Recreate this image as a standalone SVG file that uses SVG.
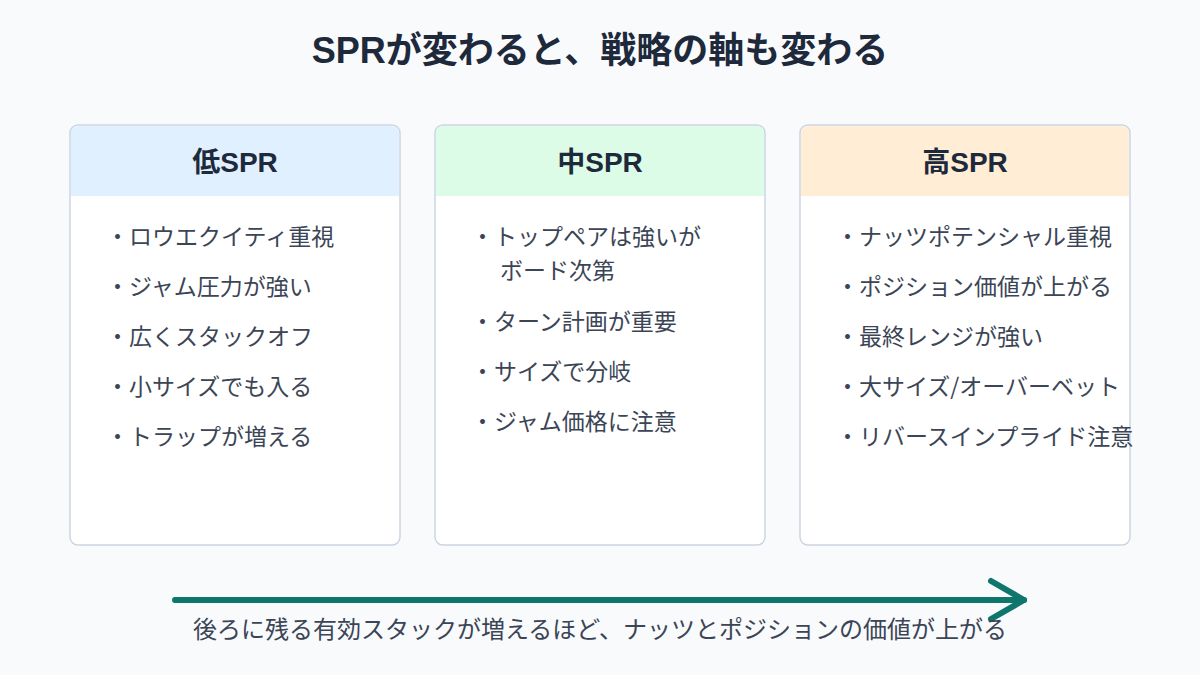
<svg xmlns="http://www.w3.org/2000/svg" width="1200" height="675" viewBox="0 0 1200 675">
<defs>
<style>
.bg{fill:#f8fafc}
.card{fill:#ffffff;stroke:#cbd5e1;stroke-width:1.5}
.title{font-family:"Liberation Sans","Noto Sans CJK JP",sans-serif;font-weight:bold;font-size:36px;fill:#1e293b;text-anchor:middle}
.head{font-family:"Liberation Sans","Noto Sans CJK JP",sans-serif;font-weight:bold;font-size:28px;fill:#1e293b;text-anchor:middle}
.item{font-family:"Noto Sans CJK JP",sans-serif;font-size:23px;fill:#3b4556}
.cap{font-family:"Noto Sans CJK JP",sans-serif;font-size:24px;fill:#3b4556;text-anchor:middle}
.arrow{fill:none;stroke:#0f766e;stroke-width:6;stroke-linecap:round;stroke-linejoin:round}
</style>
</defs>
<rect class="bg" x="0" y="0" width="1200" height="675"/>
<text class="title" x="600" y="63">SPRが変わると、戦略の軸も変わる</text>

<g id="low">
<rect class="card" x="70" y="125" width="330" height="420" rx="8"/>
<path d="M71,196 V134 Q71,126 79,126 H391 Q399,126 399,134 V196 Z" fill="#e0f0fe"/>
<text class="head" x="235" y="172">低SPR</text>
<text class="item" x="106" y="245">・ロウエクイティ重視</text>
<text class="item" x="106" y="295">・ジャム圧力が強い</text>
<text class="item" x="106" y="345">・広くスタックオフ</text>
<text class="item" x="106" y="395">・小サイズでも入る</text>
<text class="item" x="106" y="445">・トラップが増える</text>
</g>

<g id="mid">
<rect class="card" x="435" y="125" width="330" height="420" rx="8"/>
<path d="M436,196 V134 Q436,126 444,126 H756 Q764,126 764,134 V196 Z" fill="#dcfce7"/>
<text class="head" x="600" y="172">中SPR</text>
<text class="item" x="471" y="245">・トップペアは強いが</text>
<text class="item" x="500" y="279">ボード次第</text>
<text class="item" x="471" y="330">・ターン計画が重要</text>
<text class="item" x="471" y="380">・サイズで分岐</text>
<text class="item" x="471" y="430">・ジャム価格に注意</text>
</g>

<g id="high">
<rect class="card" x="800" y="125" width="330" height="420" rx="8"/>
<path d="M801,196 V134 Q801,126 809,126 H1121 Q1129,126 1129,134 V196 Z" fill="#ffedd5"/>
<text class="head" x="965" y="172">高SPR</text>
<text class="item" x="836" y="245">・ナッツポテンシャル重視</text>
<text class="item" x="836" y="295">・ポジション価値が上がる</text>
<text class="item" x="836" y="345">・最終レンジが強い</text>
<text class="item" x="836" y="395">・大サイズ/オーバーベット</text>
<text class="item" x="836" y="445">・リバースインプライド注意</text>
</g>

<g id="connectors">
<path class="arrow" d="M175,600 H1024"/>
<path class="arrow" d="M991,581 L1024,600 L991,619"/>
</g>
<text class="cap" x="600" y="638">後ろに残る有効スタックが増えるほど、ナッツとポジションの価値が上がる</text>
</svg>
